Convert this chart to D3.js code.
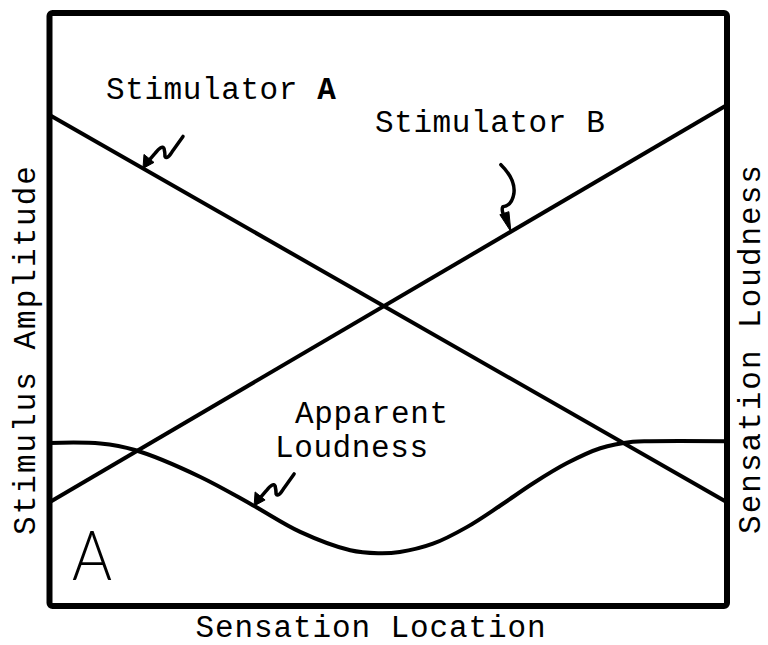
<!DOCTYPE html>
<html>
<head>
<meta charset="utf-8">
<script src="https://cdn.jsdelivr.net/npm/d3@7"></script>
<style>
	body { margin: 0; background: #fff; }
	text { font-family: 'Liberation Mono', 'Courier New', monospace; fill: #000; }
</style>
</head>
<body>
<div id="chart"></div>
<script>
// location along the skin (0-100) vs amplitude / loudness (0-100)
const stimA = [{ x: 0, y: 82.8 }, { x: 100, y: 17.5 }]
const stimB = [{ x: 0, y: 17.5 }, { x: 100, y: 84.5 }]

const loudX = [0, 7.5, 12.6, 22.2, 30.0, 37.0, 44.4, 48.5, 51.7, 56.6, 61.6, 66.5, 71.4, 76.4, 81.3, 86.1, 88.6, 100]
const loudY = [27.5, 27.4, 26.3, 21.8, 17.0, 12.5, 9.4, 8.9, 9.1, 10.5, 13.3, 16.9, 20.7, 24.1, 26.6, 27.7, 27.8, 27.8]
const loudness = loudX.map((x, i) => ({ x: x, y: loudY[i] }))

// arrow annotations: which series, where along x the tip touches
const arrows = [
	{ series: stimA, x: 13.8, kind: 'zig' },
	{ series: stimB, x: 68.1, kind: 'hook' },
	{ series: loudness, x: 30.2, kind: 'zig' }
]

const width = 768
const height = 645

const x = d3.scaleLinear().domain([0, 100]).range([49.5, 727])
const y = d3.scaleLinear().domain([0, 100]).range([606, 13])

const svg = d3.select('#chart')
	.append('svg')
	.attr('width', width)
	.attr('height', height)

const line = d3.line()
	.x(d => x(d.x))
	.y(d => y(d.y))

const curve = d3.line()
	.x(d => x(d.x))
	.y(d => y(d.y))
	.curve(d3.curveCatmullRom.alpha(0.5))

svg.append('path').datum(stimA)
	.attr('d', line)
	.attr('fill', 'none').attr('stroke', '#000').attr('stroke-width', 4)

svg.append('path').datum(stimB)
	.attr('d', line)
	.attr('fill', 'none').attr('stroke', '#000').attr('stroke-width', 4)

svg.append('path').datum(loudness)
	.attr('d', curve)
	.attr('fill', 'none').attr('stroke', '#000').attr('stroke-width', 4)

// value on a series at a given x (linear between points)
function valueAt(series, xv) {
	for (let i = 1; i < series.length; i++) {
		if (xv <= series[i].x) {
			const a = series[i - 1], b = series[i]
			return a.y + (b.y - a.y) * (xv - a.x) / (b.x - a.x)
		}
	}
	return series[series.length - 1].y
}

// squiggly hand drawn arrows
arrows.forEach(a => {
	const tx = x(a.x)
	const ty = y(valueAt(a.series, a.x))
	const g = svg.append('g').attr('transform', `translate(${tx},${ty})`)
	let stem, head
	if (a.kind == 'zig') {
		stem = 'M6,-8 L12,-15 Q19,-24 21,-20 Q22,-16 22,-12 Q24,-8 30,-18 L40,-32'
		head = 'M0,0 L1,-14 L11,-6 Z'
	} else {
		stem = 'M-10,-67 Q5,-52 3,-38 Q1,-26 -8,-25 Q-10,-22 -6,-14'
		head = 'M0,0 L-11,-17 L-2,-20 Z'
	}
	g.append('path').attr('d', stem)
		.attr('fill', 'none').attr('stroke', '#000').attr('stroke-width', 3.5)
		.attr('stroke-linecap', 'round').attr('stroke-linejoin', 'round')
	g.append('path').attr('d', head).attr('fill', '#000')
		.attr('stroke', '#000').attr('stroke-width', 1).attr('stroke-linejoin', 'round')
})

// frame
svg.append('rect')
	.attr('x', x(0)).attr('y', y(100))
	.attr('width', x(100) - x(0)).attr('height', y(0) - y(100))
	.attr('rx', 3)
	.attr('fill', 'none').attr('stroke', '#000').attr('stroke-width', 6)

// labels
const lab = svg.append('g').style('font-size', '31px').style('letter-spacing', '0.6px')

const ta = lab.append('text').attr('x', 106).attr('y', 99)
ta.append('tspan').text('Stimulator ')
ta.append('tspan').attr('font-weight', 'bold').text('A')

lab.append('text').attr('x', 375).attr('y', 132).text('Stimulator B')
lab.append('text').attr('x', 295).attr('y', 423).text('Apparent')
lab.append('text').attr('x', 275).attr('y', 457).text('Loudness')

lab.append('text')
	.attr('x', 371).attr('y', 637)
	.attr('text-anchor', 'middle')
	.style('letter-spacing', '0.9px')
	.text('Sensation Location')

lab.append('text')
	.attr('transform', `translate(35,${(y(0) + y(100)) / 2 + 40}) rotate(-90)`)
	.attr('text-anchor', 'middle')
	.style('letter-spacing', '2px')
	.text('Stimulus Amplitude')

lab.append('text')
	.attr('transform', `translate(760,${(y(0) + y(100)) / 2 + 39}) rotate(-90)`)
	.attr('text-anchor', 'middle')
	.style('letter-spacing', '2px')
	.text('Sensation Loudness')

// panel letter
svg.append('text')
	.attr('x', 72).attr('y', 580)
	.attr('textLength', 40).attr('lengthAdjust', 'spacingAndGlyphs')
	.style('font-family', 'Lato, sans-serif')
	.style('font-weight', 300)
	.style('font-size', '68px')
	.text('A')
</script>
</body>
</html>
